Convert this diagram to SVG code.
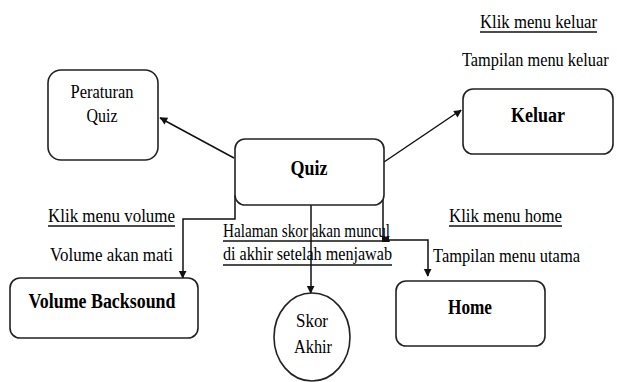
<svg xmlns="http://www.w3.org/2000/svg" width="617" height="382" viewBox="0 0 617 382">
  <style>
    .box { fill: #fff; stroke: #222; stroke-width: 1.6; }
    .lbl { font-family: "Liberation Serif", "Times New Roman", serif; font-size: 19px; fill: #000; }
    .bold { font-weight: bold; font-size: 20px; }
    .mid { text-anchor: middle; }
    .conn { fill: none; stroke: #111; stroke-width: 1.5; }
    .ul { stroke: #111; stroke-width: 1.3; }
  </style>
  <defs>
    <marker id="arrow" viewBox="0 0 10 10" refX="10" refY="5" markerWidth="7" markerHeight="7" markerUnits="userSpaceOnUse" orient="auto" overflow="visible">
      <path d="M0,0 L10,5 L0,10 Z" fill="#111" transform="scale(1.1)"/>
    </marker>
  </defs>

  <rect width="617" height="382" fill="#fff"/>

  <!-- connectors -->
  <g id="connectors">
    <line class="conn" x1="234" y1="158" x2="160" y2="118" marker-end="url(#arrow)"/>
    <line class="conn" x1="384" y1="162" x2="461" y2="110" marker-end="url(#arrow)"/>
    <polyline class="conn" points="235,195 235,219 183,219 183,278" marker-end="url(#arrow)"/>
    <line class="conn" x1="311" y1="205" x2="311" y2="293" marker-end="url(#arrow)"/>
    <polyline class="conn" points="383,195 383,240 428,240 428,276" marker-end="url(#arrow)"/>
    <rect x="382" y="237" width="7" height="5" fill="#111"/>
  </g>

  <!-- nodes -->
  <g id="peraturan-quiz">
    <rect class="box" x="48" y="70" width="110" height="90" rx="13"/>
    <text class="lbl mid" x="102" y="98" textLength="63" lengthAdjust="spacingAndGlyphs">Peraturan</text>
    <text class="lbl mid" x="102" y="122" textLength="31" lengthAdjust="spacingAndGlyphs">Quiz</text>
  </g>

  <g id="quiz">
    <rect class="box" x="235" y="139" width="149" height="66" rx="10"/>
    <text class="lbl bold mid" x="309" y="175" textLength="37" lengthAdjust="spacingAndGlyphs">Quiz</text>
  </g>

  <g id="keluar">
    <rect class="box" x="463" y="89" width="150" height="65" rx="10"/>
    <text class="lbl bold mid" x="538" y="122" textLength="54" lengthAdjust="spacingAndGlyphs">Keluar</text>
  </g>

  <g id="volume-backsound">
    <rect class="box" x="10" y="278" width="188" height="60" rx="10"/>
    <text class="lbl bold mid" x="102" y="308" textLength="147" lengthAdjust="spacingAndGlyphs">Volume Backsound</text>
  </g>

  <g id="skor-akhir">
    <ellipse class="box" cx="312" cy="337" rx="38" ry="44"/>
    <text class="lbl mid" x="312" y="327" textLength="32" lengthAdjust="spacingAndGlyphs">Skor</text>
    <text class="lbl mid" x="313" y="353" textLength="38" lengthAdjust="spacingAndGlyphs">Akhir</text>
  </g>

  <g id="home">
    <rect class="box" x="396" y="281" width="149" height="65" rx="10"/>
    <text class="lbl bold mid" x="470" y="314" textLength="44" lengthAdjust="spacingAndGlyphs">Home</text>
  </g>

  <!-- connector labels -->
  <g id="labels">
    <text class="lbl" x="480" y="28" textLength="117" lengthAdjust="spacingAndGlyphs">Klik menu keluar</text>
    <line class="ul" x1="480" y1="32" x2="597" y2="32"/>
    <text class="lbl" transform="translate(462 66) scale(0.86 1)" x="0" y="0">Tampilan menu keluar</text>

    <text class="lbl" x="48" y="222" textLength="127" lengthAdjust="spacingAndGlyphs">Klik menu volume</text>
    <line class="ul" x1="48" y1="226" x2="175" y2="226"/>
    <text class="lbl" x="50" y="261" textLength="123" lengthAdjust="spacingAndGlyphs">Volume akan mati</text>

    <text class="lbl" x="223" y="237" textLength="167" lengthAdjust="spacingAndGlyphs">Halaman skor akan muncul</text>
    <line class="ul" x1="223" y1="241" x2="390" y2="241"/>
    <text class="lbl" x="223" y="260" textLength="169" lengthAdjust="spacingAndGlyphs">di akhir setelah menjawab</text>
    <line class="ul" x1="223" y1="265" x2="392" y2="265"/>

    <text class="lbl" x="449" y="222" textLength="113" lengthAdjust="spacingAndGlyphs">Klik menu home</text>
    <line class="ul" x1="449" y1="226" x2="562" y2="226"/>
    <text class="lbl" x="433" y="262" textLength="147" lengthAdjust="spacingAndGlyphs">Tampilan menu utama</text>
  </g>
</svg>
